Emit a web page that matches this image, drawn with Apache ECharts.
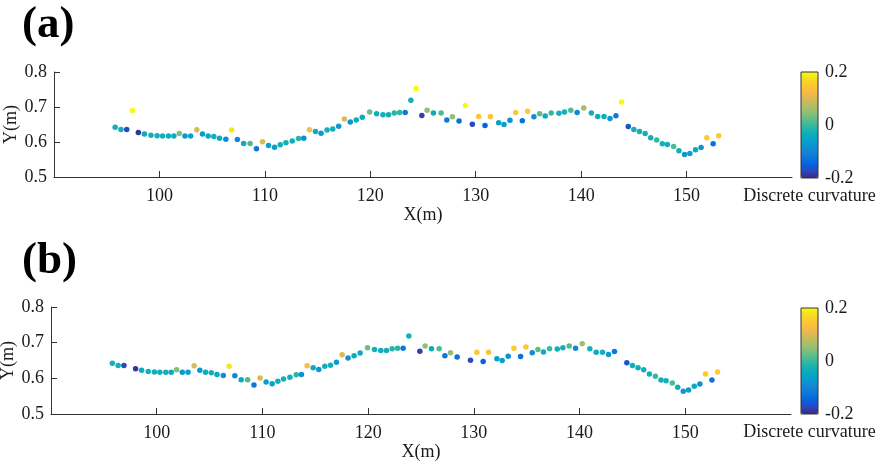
<!DOCTYPE html>
<html>
<head>
<meta charset="utf-8">
<script src="https://cdn.jsdelivr.net/npm/echarts@6/dist/echarts.min.js"></script>
<style>html,body{margin:0;padding:0;background:#fff;}#c{width:878px;height:465px;}</style>
</head>
<body>
<div id="c"></div>
<script>
// Base points (shown in both panels): X (m), Y (m), discrete curvature
const baseX = [95.8,96.35,96.9,98.0,98.57,99.2,99.78,100.3,100.86,101.37,101.88,102.42,102.96,103.54,104.08,104.62,105.16,105.7,106.3,106.85,107.39,107.99,108.6,109.2,109.78,110.35,110.92,111.46,112.0,112.6,113.2,113.69,114.23,114.8,115.33,115.9,116.44,117.0,117.54,118.1,118.67,119.24,119.94,120.6,121.2,121.73,122.27,122.78,123.31,123.85,124.89,125.39,125.99,126.72,127.26,127.79,128.42,129.68,130.28,130.88,131.39,132.18,132.68,133.25,133.79,134.42,134.92,135.52,136.06,136.59,137.16,137.89,138.42,139.02,139.62,140.25,140.97,141.57,142.17,142.74,143.3,144.47,145.0,145.53,146.07,146.6,147.17,147.7,148.18,148.77,149.28,149.81,150.31,150.85,151.38,151.92,152.52,153.05];
const baseY = [0.642,0.636,0.636,0.627,0.623,0.619,0.618,0.617,0.617,0.617,0.624,0.617,0.617,0.635,0.623,0.617,0.616,0.611,0.608,0.634,0.607,0.596,0.596,0.581,0.601,0.590,0.585,0.592,0.598,0.603,0.610,0.611,0.635,0.630,0.625,0.634,0.637,0.645,0.666,0.657,0.663,0.671,0.686,0.681,0.678,0.678,0.683,0.684,0.684,0.719,0.676,0.691,0.683,0.683,0.663,0.672,0.660,0.651,0.673,0.647,0.673,0.655,0.650,0.662,0.684,0.661,0.688,0.672,0.681,0.674,0.683,0.682,0.686,0.691,0.684,0.697,0.683,0.673,0.673,0.667,0.675,0.644,0.636,0.630,0.624,0.612,0.606,0.595,0.593,0.587,0.575,0.564,0.567,0.578,0.584,0.612,0.595,0.618];
const baseC = [-0.03,-0.03,-0.17,-0.19,-0.04,-0.03,-0.03,-0.03,-0.03,-0.04,0.04,-0.07,-0.06,0.10,-0.07,-0.04,-0.03,-0.04,-0.09,0.18,-0.10,-0.04,0.01,-0.12,0.10,-0.06,-0.06,-0.03,-0.03,-0.03,-0.01,-0.09,0.13,-0.04,-0.07,-0.03,-0.03,-0.07,0.10,-0.08,-0.04,-0.04,0.03,-0.03,-0.03,-0.03,-0.01,-0.01,-0.12,-0.03,-0.18,0.05,-0.04,0.01,-0.12,0.05,-0.13,-0.17,0.15,-0.15,0.14,-0.06,-0.06,-0.08,0.15,-0.13,0.15,-0.09,0.02,-0.04,0.0,-0.03,-0.03,0.01,-0.10,0.06,-0.03,-0.04,-0.03,-0.07,-0.12,-0.16,-0.03,-0.03,-0.03,-0.03,0.0,-0.03,-0.03,0.01,-0.03,-0.07,-0.06,-0.04,-0.08,0.15,-0.13,0.15];
// Outlier points shown only in panel (a)
const outX = [97.45,124.35,129.02,143.84];
const outY = [0.690,0.753,0.704,0.714];
const outC = [0.2,0.2,0.2,0.2];
// Axis ticks
const xTicks = [100,110,120,130,140,150];
const yTicks = [0.5,0.6,0.7,0.8];
const cTicks = [-0.2,0,0.2];
// parula colormap
const parula = ['#352A87','#3243BA','#0363E1','#0D75DC','#1485D4','#0998D1','#06A7C6','#15B1B4','#38B99E','#65BE86','#92BF73','#B7BD64','#D9BA56','#F8BB44','#FEC832','#F5DE21','#F9FB0E'];

function pts(xs, ys, cs){ return xs.map((x,i)=>[x, ys[i], cs[i]]); }
const dataB = pts(baseX, baseY, baseC);
const dataA = dataB.concat(pts(outX, outY, outC));

const FF = "'Liberation Serif','Times New Roman',serif";
const TXT = '#1a1a1a';
const AX = '#333';

function xAx(gi){
  return {gridIndex:gi, type:'value', min:90, max:160, interval:10,
    name:'X(m)', nameLocation:'middle', nameGap:29, nameMoveOverlap:false,
    nameTextStyle:{fontFamily:FF, fontSize:18, color:TXT},
    axisLine:{lineStyle:{color:AX, width:1}},
    axisTick:{inside:true, length:6, customValues:xTicks, lineStyle:{color:AX}},
    axisLabel:{customValues:xTicks, margin:10, fontFamily:FF, fontSize:18, color:TXT},
    splitLine:{show:false}};
}
function yAx(gi){
  return {gridIndex:gi, type:'value', min:0.5, max:0.8, interval:0.1,
    name:'Y(m)', nameLocation:'middle', nameGap:34, nameRotate:90, nameMoveOverlap:false,
    nameTextStyle:{fontFamily:FF, fontSize:18, color:TXT},
    axisLine:{show:true, lineStyle:{color:AX, width:1}},
    axisTick:{show:true, inside:true, length:6, customValues:yTicks, lineStyle:{color:AX}},
    axisLabel:{customValues:yTicks, margin:7, fontFamily:FF, fontSize:18, color:TXT, formatter:v=>(+v).toFixed(1)},
    splitLine:{show:false}};
}
function cbX(gi){
  return {gridIndex:gi, type:'value', min:0, max:1,
    name:'Discrete curvature', nameLocation:'middle', nameGap:9, nameMoveOverlap:false,
    nameTextStyle:{fontFamily:FF, fontSize:18, color:TXT},
    axisLine:{show:false}, axisTick:{show:false}, axisLabel:{show:false}, splitLine:{show:false}};
}
function cbY(gi){
  return {gridIndex:gi, type:'value', position:'right', min:-0.2, max:0.2, interval:0.2,
    axisLine:{show:false}, axisTick:{show:false}, splitLine:{show:false},
    axisLabel:{customValues:cTicks, margin:7, fontFamily:FF, fontSize:18, color:TXT,
      formatter:v=>(Math.abs(v)<1e-9?'0':(+v).toFixed(1))}};
}

const option = {
  backgroundColor:'#fff',
  animation:false,
  title:[
    {text:'(a)', left:17, top:-2, textStyle:{fontFamily:FF, fontSize:45, fontWeight:'bold', color:'#000'}},
    {text:'(b)', left:17, top:234, textStyle:{fontFamily:FF, fontSize:45, fontWeight:'bold', color:'#000'}}
  ],
  grid:[
    {left:54, right:86, top:72, bottom:288, outerBoundsMode:'none', containLabel:false},
    {left:51, right:87, top:307, bottom:51, outerBoundsMode:'none', containLabel:false},
    {left:801, width:17, top:72, bottom:287, show:true, borderColor:AX, borderWidth:1, backgroundColor:'transparent', z:10, outerBoundsMode:'none', containLabel:false},
    {left:801, width:17, top:308, bottom:51, show:true, borderColor:AX, borderWidth:1, backgroundColor:'transparent', z:10, outerBoundsMode:'none', containLabel:false}
  ],
  xAxis:[xAx(0), xAx(1), cbX(2), cbX(3)],
  yAxis:[yAx(0), yAx(1), cbY(2), cbY(3)],
  visualMap:[
    {type:'continuous', seriesIndex:0, dimension:2, min:-0.2, max:0.2, calculable:false,
     left:801, top:72, itemWidth:17, itemHeight:106, padding:0, inRange:{color:parula}, hoverLink:false},
    {type:'continuous', seriesIndex:1, dimension:2, min:-0.2, max:0.2, calculable:false,
     left:801, top:308, itemWidth:17, itemHeight:106, padding:0, inRange:{color:parula}, hoverLink:false}
  ],
  series:[
    {type:'scatter', xAxisIndex:0, yAxisIndex:0, data:dataA, symbolSize:5.5, itemStyle:{opacity:1}},
    {type:'scatter', xAxisIndex:1, yAxisIndex:1, data:dataB, symbolSize:5.5, itemStyle:{opacity:1}}
  ]
};
const chart = echarts.init(document.getElementById('c'), null, {renderer:'canvas'});
chart.setOption(option);
</script>
</body>
</html>
